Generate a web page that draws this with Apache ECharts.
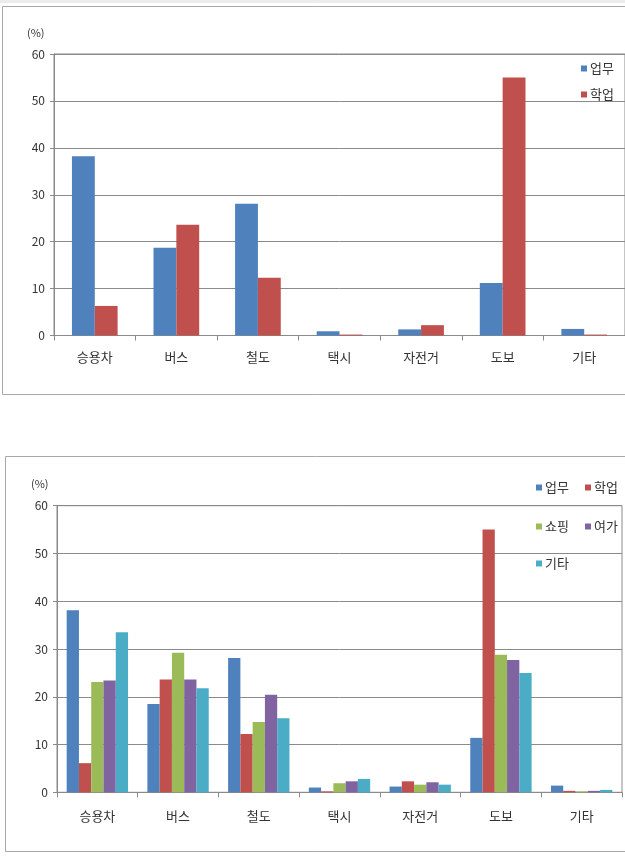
<!DOCTYPE html>
<html>
<head>
<meta charset="utf-8">
<script src="https://cdn.jsdelivr.net/npm/echarts@6/dist/echarts.min.js"></script>
<style>
html,body{margin:0;padding:0;background:#fff;}
#c{width:625px;height:860px;}
</style>
</head>
<body>
<div id="c"></div>
<script>
// ---- data ----
const categories = ['승용차','버스','철도','택시','자전거','도보','기타'];
const yTicks = [0,10,20,30,40,50,60];
// chart 1
const c1_work   = [38.2, 18.7, 28.1, 0.9, 1.3, 11.2, 1.4];
const c1_school = [6.3, 23.6, 12.3, 0.2, 2.2, 55.0, 0.2];
// chart 2
const c2_work     = [38.1, 18.5, 28.1, 1.0, 1.2, 11.4, 1.4];
const c2_school   = [6.1, 23.6, 12.2, 0.2, 2.3, 55.0, 0.3];
const c2_shopping = [23.1, 29.2, 14.7, 1.9, 1.6, 28.8, 0.2];
const c2_leisure  = [23.4, 23.6, 20.4, 2.3, 2.1, 27.7, 0.3];
const c2_other    = [33.5, 21.8, 15.5, 2.8, 1.6, 25.0, 0.5];

const names = ['업무','학업','쇼핑','여가','기타'];
const colors = ['#4F81BD','#C0504D','#9BBB59','#8064A2','#4BACC6'];

const FONT = '"Noto Sans CJK KR", "Noto Sans", sans-serif';
const axisGray = '#8a8a8a';

function xAxis(gridIndex, margin){
  return {
    type:'category', gridIndex, data:categories,
    axisLine:{lineStyle:{color:axisGray}},
    axisTick:{show:true, length:5, lineStyle:{color:axisGray}},
    axisLabel:{color:'#333', fontSize:13, fontFamily:FONT, margin}
  };
}
function yAxis(gridIndex){
  return {
    type:'value', gridIndex, min:yTicks[0], max:yTicks[yTicks.length-1], interval:10,
    axisLine:{show:true, lineStyle:{color:axisGray}},
    axisTick:{show:true, length:4, lineStyle:{color:axisGray}},
    axisLabel:{color:'#333', fontSize:12, fontFamily:FONT, margin:9},
    splitLine:{lineStyle:{color:axisGray}}
  };
}
function bar(name, data, idx, axisIdx, gap){
  return {
    type:'bar', name, data, xAxisIndex:axisIdx, yAxisIndex:axisIdx,
    itemStyle:{color:colors[idx]}, barGap:'0%', barCategoryGap:gap,
    animation:false
  };
}
function leg(name, left, top){
  return {
    data:[name], left, top, icon:'rect', itemWidth:6, itemHeight:6, itemGap:0,
    textStyle:{fontSize:13, color:'#333', fontFamily:FONT, padding:[0,0,0,-2]},
    selectedMode:false
  };
}

const chart = echarts.init(document.getElementById('c'), null, {renderer:'canvas'});
chart.setOption({
  backgroundColor:'#fff',
  animation:false,
  textStyle:{fontFamily:FONT},
  grid:[
    {left:54, top:54, width:572, height:281.5, show:true, borderColor:axisGray, borderWidth:1, backgroundColor:'transparent'},
    {left:57, top:505.7, width:565, height:286.6, show:true, borderColor:axisGray, borderWidth:1, backgroundColor:'transparent'}
  ],
  xAxis:[xAxis(0,15), xAxis(1,17)],
  yAxis:[yAxis(0), yAxis(1)],
  legend:[
    leg('업무', 576, 57),
    leg('학업', 576, 83),
    leg('업무', 531, 476),
    leg('학업', 580, 476),
    leg('쇼핑', 531, 515),
    leg('여가', 580, 515),
    leg('기타', 531, 552)
  ],
  graphic:[
    {type:'rect', shape:{x:0,y:0,width:625,height:3}, style:{fill:'#ececec'}, silent:true},
    {type:'rect', shape:{x:2.5,y:6.5,width:700,height:388}, style:{fill:'none', stroke:'#a8a8a8', lineWidth:1}, silent:true},
    {type:'rect', shape:{x:5.5,y:456.5,width:700,height:395}, style:{fill:'none', stroke:'#a8a8a8', lineWidth:1}, silent:true},
    {type:'text', left:27, top:27, style:{text:'(%)', fontSize:11, fill:'#333', fontFamily:FONT}},
    {type:'text', left:31, top:478, style:{text:'(%)', fontSize:11, fill:'#333', fontFamily:FONT}}
  ],
  series:[
    bar('업무', c1_work, 0, 0, '44%'),
    bar('학업', c1_school, 1, 0, '44%'),
    bar('업무', c2_work, 0, 1, '24%'),
    bar('학업', c2_school, 1, 1, '24%'),
    bar('쇼핑', c2_shopping, 2, 1, '24%'),
    bar('여가', c2_leisure, 3, 1, '24%'),
    bar('기타', c2_other, 4, 1, '24%')
  ]
});
</script>
</body>
</html>
